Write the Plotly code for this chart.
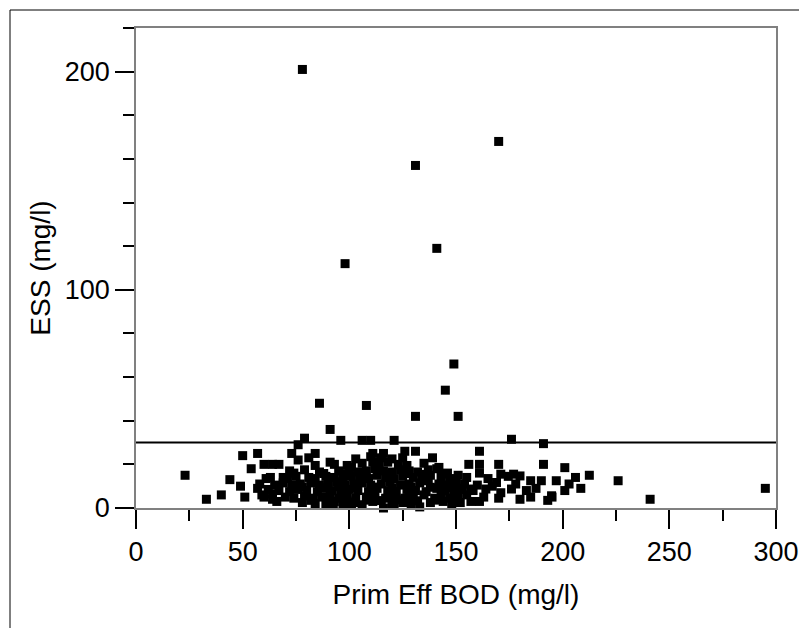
import plotly.graph_objects as go

# Prim Eff BOD (mg/l) and ESS (mg/l) pairs
bod = [
    # outliers
    78, 170, 131, 141, 98, 149, 145, 86, 108, 131, 151,
    # sparse points
    23, 33, 40, 44, 50, 49, 51, 54, 57, 57, 59, 60, 64, 67, 61, 64, 69, 73, 76, 74,
    79, 76, 81, 84, 91, 91, 96, 106, 110, 121, 126, 131, 139, 111, 116, 116, 133,
    141, 146, 151, 151, 161, 161, 161, 161, 156, 170, 176, 171, 174.5, 180, 185, 190,
    191, 191, 197, 201, 206, 212.5, 208.5, 201, 195, 193, 187.5, 180, 226, 241, 295,
    164, 167, 169, 177, 203, 171, 176, 194.8, 157,
    101, 142, 128, 137, 92.5, 101, 121,
    # dense cluster
    66, 78, 84, 89, 93, 97, 102, 106, 111, 120, 125, 129, 138, 144, 148, 152, 157,
    60, 64, 70, 74, 79, 83, 87, 91, 95, 99, 103, 108, 112, 117, 121, 126, 130, 135,
    140, 143, 147, 151, 155, 163, 170, 185,
    62, 67, 72, 76, 80, 85, 88, 92, 96, 100, 104, 109, 113, 118, 122, 127, 131, 136,
    141, 145, 149, 153, 158, 183,
    58, 65, 69, 73, 77, 82, 86, 90, 94, 98, 102, 106, 110, 115, 119, 124, 128, 133,
    142, 146, 150, 154, 160, 178,
    63, 71, 75, 81, 84, 89, 93, 97, 101, 105, 109, 113, 117, 121, 125, 130, 134, 138,
    143, 147, 155, 165,
    72, 79, 86, 95, 100, 104, 108, 112, 116, 120, 124, 128, 132, 137,
    84, 93, 99, 106, 111, 114, 118, 123, 127, 135,
    103, 110, 115, 120, 125,
    82, 90, 99, 108, 115, 123, 132, 141, 150,
    78, 87, 95, 103, 111, 120, 129, 138, 147,
    88, 98, 107, 118, 127, 136, 145,
]
ess = [
    201, 168, 157, 119, 112, 66, 54, 48, 47, 42, 42,
    15, 4, 6, 13, 24, 10, 5, 18, 25, 9, 6, 20, 20, 20, 13.5, 4, 14, 25, 22, 16,
    32, 29, 23, 25, 36, 21, 31, 31, 31, 31, 26, 26, 23, 25, 25, 0, 0.5,
    18, 16, 15, 9, 26, 20, 16, 3, 20, 20, 31.5, 15.5, 14.5, 14.7, 12.5, 12.5,
    20, 29.5, 12.5, 18.5, 14, 15, 9, 8, 5, 3.5, 9, 4, 12.5, 4, 9,
    8.7, 10, 11.7, 15.5, 11, 7, 8.7, 5.6, 8.7,
    18.6, 18.6, 6.4, 12.5, 1.8, 1.4, 1.8,
    3, 2.5, 2, 1.5, 3, 2, 2.5, 1.5, 3, 2, 2.5, 1.5, 2.5, 3, 2, 2.5, 3,
    5, 6.5, 5, 4.5, 5.5, 4.5, 5, 6, 4.5, 5.5, 4.5, 5, 6, 4.5, 5.5, 4.5, 5, 6,
    4.5, 5.5, 4.5, 5, 6, 5, 4.5, 5,
    8.5, 8, 7.5, 8.5, 8, 7.5, 9, 8, 7.5, 8.5, 8, 7.5, 9, 8, 7.5, 8.5, 8, 7.5,
    9, 8, 7.5, 8.5, 8, 8,
    11, 10.5, 11.5, 10.5, 11, 11.5, 10.5, 11, 12, 10.5, 11, 11.5, 10.5, 11, 12, 10.5, 11, 11.5,
    11, 10.5, 11.5, 11, 10.5, 11,
    14, 13.5, 14.5, 14, 13.5, 14.5, 14, 13.5, 14.5, 14, 13.5, 15, 14, 13.5, 14.5, 14, 13.5, 15,
    14, 13.5, 14, 13.5,
    17, 17.5, 16.5, 17, 17.5, 16.5, 17, 18, 17, 16.5, 17.5, 17, 16.5, 17.5,
    19.5, 20, 19.5, 20.5, 21, 20, 21, 20, 19.5, 20.5,
    22.5, 23.5, 23, 22.5, 23,
    3.5, 3.8, 3.2, 3.6, 3.4, 3.7, 3.3, 3.6, 3.4,
    9.7, 9.3, 9.8, 9.4, 9.6, 9.3, 9.7, 9.5, 9.4,
    15.8, 15.4, 15.7, 15.5, 15.8, 15.4, 15.6,
]

x_ticks = [0, 50, 100, 150, 200, 250, 300]
y_ticks = [0, 100, 200]
threshold = 30
x_range = [0, 300]
y_range = [0, 220]

FONT = "Liberation Sans, Arial, sans-serif"

fig = go.Figure()
fig.add_trace(go.Scatter(
    x=bod, y=ess, mode="markers",
    marker=dict(symbol="square", size=9, color="black", line=dict(width=0)),
    hoverinfo="x+y", showlegend=False, cliponaxis=False,
))
fig.add_trace(go.Scatter(
    x=x_range, y=[threshold, threshold], mode="lines",
    line=dict(color="black", width=2), showlegend=False, hoverinfo="skip",
))

axis_common = dict(
    showgrid=False, zeroline=False, automargin=False,
    showline=True, linecolor="#808080", linewidth=1.5, mirror=True,
    ticks="outside", ticklen=19, tickwidth=2, tickcolor="black",
    tickfont=dict(family=FONT, size=27, color="black"),
)

fig.update_xaxes(
    range=x_range, tickmode="array", tickvals=x_ticks,
    ticktext=[str(v) for v in x_ticks],
    minor=dict(dtick=25, tick0=0, ticks="outside", ticklen=11, tickwidth=2,
               tickcolor="black", showgrid=False),
    title=dict(text="Prim Eff BOD (mg/l)", font=dict(family=FONT, size=28, color="black"),
               standoff=18),
    **axis_common,
)
fig.update_yaxes(
    range=y_range, tickmode="array", tickvals=y_ticks,
    ticktext=[str(v) for v in y_ticks],
    minor=dict(dtick=20, tick0=0, ticks="outside", ticklen=11, tickwidth=2,
               tickcolor="black", showgrid=False),
    title=dict(text="ESS (mg/l)", font=dict(family=FONT, size=28, color="black"),
               standoff=6),
    **axis_common,
)

# outer frame (left and top edges)
fx = (2 - 128) / 640
fy = (500 - 2) / 480
fig.add_shape(type="line", xref="paper", yref="paper", x0=fx, x1=fx, y0=-0.3, y1=fy,
              line=dict(color="black", width=1))
fig.add_shape(type="line", xref="paper", yref="paper", x0=fx, x1=1.2, y0=fy, y1=fy,
              line=dict(color="black", width=1))

fig.update_layout(
    width=799, height=620,
    margin=dict(l=128, r=31, t=20, b=120, autoexpand=False),
    paper_bgcolor="white", plot_bgcolor="white",
    font=dict(family=FONT, color="black"),
)

fig.write_html("out.html")
